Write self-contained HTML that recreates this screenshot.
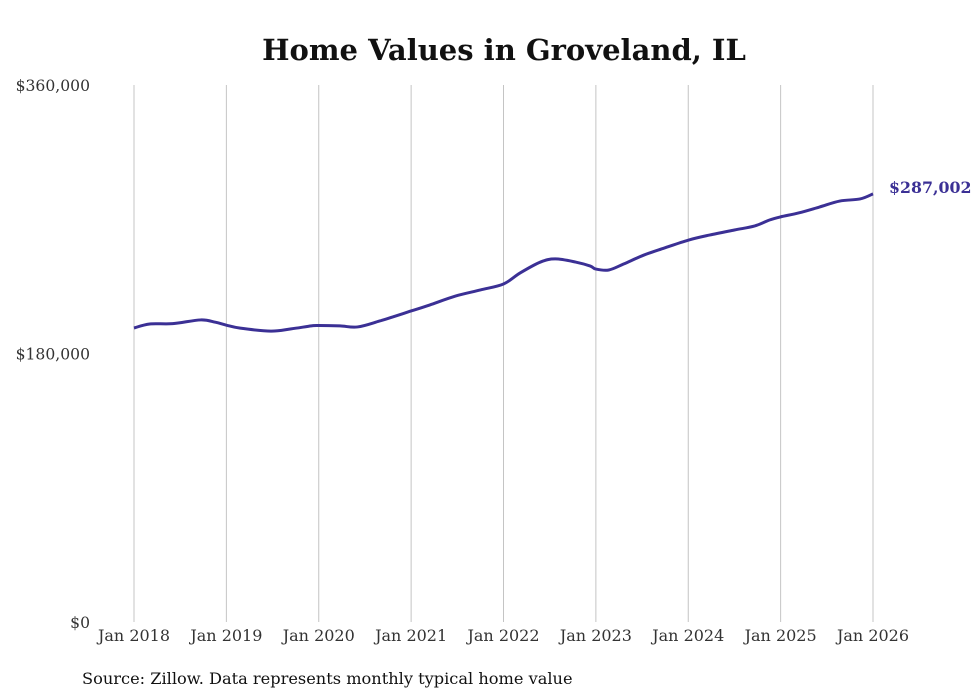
<!DOCTYPE html>
<html><head><meta charset="utf-8"><style>
body{margin:0;background:#fff;}
svg{display:block;font-family:"DejaVu Serif","Liberation Serif",serif;}
</style></head><body>
<svg id="chart" width="980" height="699">
<text x="504" y="60" text-anchor="middle" font-size="29" font-weight="bold" fill="#111">Home Values in Groveland, IL</text>
<g id="grid"></g>
<g id="axes"></g>
<path id="line" fill="none" stroke="#3b3095" stroke-width="3" stroke-linejoin="round"></path>
<text id="endLabel" font-size="15.8" font-weight="bold" fill="#3b3095"></text>
<text x="82" y="684" font-size="16.2" fill="#111">Source: Zillow. Data represents monthly typical home value</text>
</svg>
<script>
const dates=[2018.0,2018.17,2018.42,2018.72,2018.88,2019.0,2019.15,2019.48,2019.7,2019.92,2020.0,2020.23,2020.42,2020.66,2021.0,2021.2,2021.48,2021.75,2022.0,2022.18,2022.4,2022.56,2022.78,2022.94,2023.0,2023.14,2023.3,2023.52,2023.74,2024.0,2024.23,2024.5,2024.72,2024.88,2025.0,2025.2,2025.42,2025.64,2025.86,2026.0];
const values=[197100,199800,200000,202500,201000,199000,197000,195000,196500,198500,198800,198500,197800,201800,208500,212500,218500,222600,226600,234000,241300,243400,241300,238600,236600,236000,240000,246000,250700,256000,259400,262800,265500,269500,271600,274300,278200,282200,283600,287002];
const yTicks=[0,180000,360000];
const yTickLabels=["$0","$180,000","$360,000"];
const xTicks=[2018,2019,2020,2021,2022,2023,2024,2025,2026];
const xTickLabels=["Jan 2018","Jan 2019","Jan 2020","Jan 2021","Jan 2022","Jan 2023","Jan 2024","Jan 2025","Jan 2026"];
const NS="http://www.w3.org/2000/svg";
const xS=d=>134+(d-2018)*(873-134)/8;
const yS=v=>622-v*(622-85)/360000;
const grid=document.getElementById('grid'),axes=document.getElementById('axes');
xTicks.forEach((t,i)=>{
 const l=document.createElementNS(NS,'line');
 l.setAttribute('x1',xS(t));l.setAttribute('x2',xS(t));l.setAttribute('y1',85);l.setAttribute('y2',622);
 l.setAttribute('stroke','#c4c4c4');l.setAttribute('stroke-width','1');
 
 
 grid.appendChild(l);
 const tx=document.createElementNS(NS,'text');
 tx.setAttribute('x',xS(t));tx.setAttribute('y',641);tx.setAttribute('text-anchor','middle');
 tx.setAttribute('font-size','16');tx.setAttribute('fill','#333');tx.textContent=xTickLabels[i];
 
 
 axes.appendChild(tx);
});
yTicks.forEach((t,i)=>{
 const tx=document.createElementNS(NS,'text');
 tx.setAttribute('x',90);tx.setAttribute('y',yS(t)+6);tx.setAttribute('text-anchor','end');
 tx.setAttribute('font-size','15.6');tx.setAttribute('fill','#333');tx.textContent=yTickLabels[i];
 
 
 axes.appendChild(tx);
});
const pts=dates.map((d,i)=>[xS(d),yS(values[i])]);
let p='M'+pts[0][0]+','+pts[0][1];
for(let i=0;i<pts.length-1;i++){
 const p0=pts[i-1]||pts[i],p1=pts[i],p2=pts[i+1],p3=pts[i+2]||p2;
 const c1=[p1[0]+(p2[0]-p0[0])/6,p1[1]+(p2[1]-p0[1])/6];
 const c2=[p2[0]-(p3[0]-p1[0])/6,p2[1]-(p3[1]-p1[1])/6];
 p+=` C${c1[0]},${c1[1]} ${c2[0]},${c2[1]} ${p2[0]},${p2[1]}`;
}
document.getElementById('line').setAttribute('d',p);
const el=document.getElementById('endLabel');
const last=values[values.length-1];
el.setAttribute('x',xS(dates[dates.length-1])+16);
el.setAttribute('y',yS(last)-1);
el.textContent='$'+last.toLocaleString('en-US');
</script>
</body></html>
